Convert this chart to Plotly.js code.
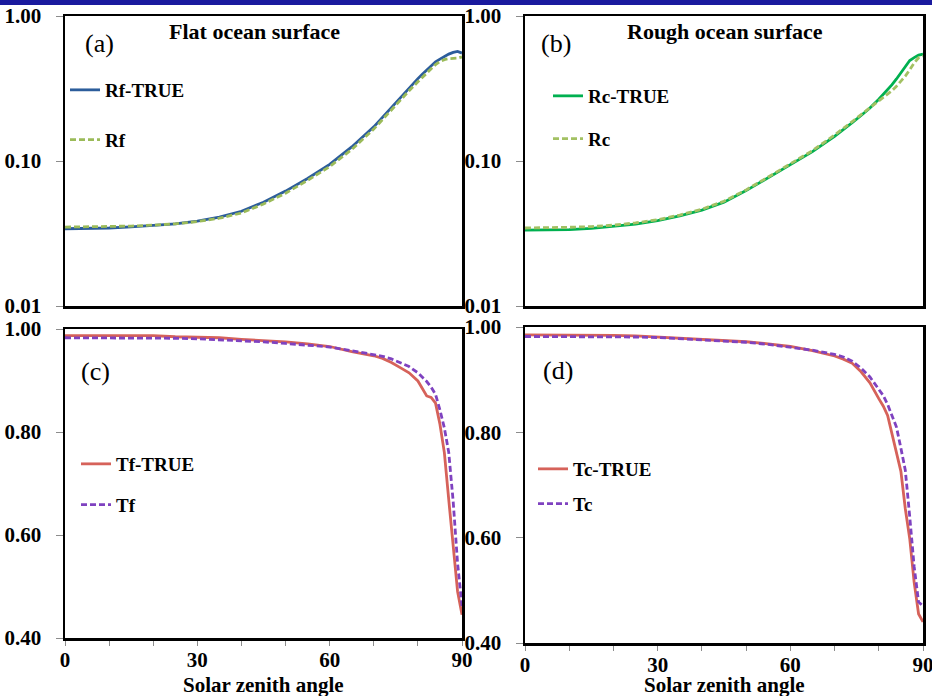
<!DOCTYPE html>
<html>
<head>
<meta charset="utf-8">
<script src="https://cdn.plot.ly/plotly-3.0.1.min.js"></script>
<style>
  html, body { margin: 0; padding: 0; background: #fff; }
  #chart { width: 932px; height: 696px; }
</style>
</head>
<body>
<div id="chart"></div>
<script>
// Solar zenith angle (degrees)
const angle = [0, 5, 10, 15, 20, 25, 30, 35, 40, 45, 50, 55, 60, 65, 70,
               72, 74, 76, 78, 80, 81, 82, 83, 84, 85, 86, 87, 88, 89, 90];

// (a) flat ocean surface reflectance
const rfTrue = [0.0341, 0.0342, 0.0345, 0.0351, 0.0358, 0.0369, 0.0385, 0.0410, 0.0450, 0.0520,
                0.0620, 0.0757, 0.0948, 0.125, 0.172, 0.201, 0.235, 0.273, 0.319, 0.370,
                0.397, 0.426, 0.456, 0.483, 0.504, 0.526, 0.546, 0.561, 0.570, 0.555];
const rf     = [0.0350, 0.0351, 0.0353, 0.0356, 0.0361, 0.0369, 0.0382, 0.0403, 0.0438, 0.0505,
                0.0600, 0.0735, 0.0915, 0.120, 0.166, 0.194, 0.227, 0.263, 0.305, 0.352,
                0.378, 0.405, 0.435, 0.462, 0.485, 0.500, 0.508, 0.510, 0.512, 0.522];

// (b) rough ocean surface reflectance
const rcTrue = [0.0334, 0.0334, 0.0336, 0.0343, 0.0353, 0.0367, 0.0388, 0.0418, 0.0458, 0.0520,
                0.0625, 0.0765, 0.0938, 0.116, 0.148, 0.164, 0.184, 0.206, 0.232, 0.267,
                0.288, 0.311, 0.336, 0.368, 0.405, 0.447, 0.493, 0.516, 0.538, 0.545];
const rc     = [0.0345, 0.0346, 0.0349, 0.0353, 0.0361, 0.0374, 0.0394, 0.0424, 0.0465, 0.0528,
                0.0632, 0.0775, 0.0955, 0.118, 0.151, 0.167, 0.187, 0.209, 0.233, 0.262,
                0.276, 0.292, 0.306, 0.328, 0.355, 0.385, 0.426, 0.475, 0.515, 0.530];

// (c) flat ocean surface transmittance
const tfTrue = [0.987, 0.987, 0.987, 0.987, 0.987, 0.985, 0.984, 0.983, 0.980, 0.978,
                0.975, 0.971, 0.966, 0.956, 0.948, 0.943, 0.935, 0.925, 0.915, 0.899,
                0.885, 0.870, 0.867, 0.856, 0.815, 0.760, 0.668, 0.585, 0.490, 0.445];
const tf     = [0.983, 0.983, 0.983, 0.983, 0.983, 0.982, 0.981, 0.979, 0.978, 0.975,
                0.972, 0.969, 0.965, 0.958, 0.951, 0.947, 0.942, 0.935, 0.927, 0.915,
                0.907, 0.898, 0.887, 0.873, 0.843, 0.808, 0.760, 0.665, 0.545, 0.462];

// (d) rough ocean surface transmittance
const tcTrue = [0.985, 0.985, 0.985, 0.985, 0.984, 0.983, 0.981, 0.979, 0.977, 0.975,
                0.972, 0.968, 0.963, 0.955, 0.945, 0.939, 0.931, 0.915, 0.894, 0.864,
                0.850, 0.832, 0.798, 0.758, 0.726, 0.655, 0.598, 0.515, 0.455, 0.440];
const tc     = [0.982, 0.982, 0.982, 0.982, 0.982, 0.981, 0.980, 0.978, 0.976, 0.974,
                0.971, 0.967, 0.962, 0.956, 0.948, 0.943, 0.935, 0.922, 0.905, 0.883,
                0.870, 0.853, 0.833, 0.810, 0.770, 0.728, 0.640, 0.545, 0.478, 0.470];

// Axis tick labels
const xTickVals = [0, 30, 60, 90];
const xTickText = ['0', '30', '60', '90'];
const logTickVals = [0.01, 0.1, 1];
const logTickText = ['0.01', '0.10', '1.00'];
const linTickVals = [0.4, 0.6, 0.8, 1.0];
const linTickText = ['0.40', '0.60', '0.80', '1.00'];

const W = 932, H = 696;
const SERIF = 'Liberation Serif, Times New Roman, serif';
const tickFont = () => ({ family: SERIF, size: 21, color: '#000', weight: 'bold' });
const legFont = () => ({ family: SERIF, size: 19, color: '#000', weight: 'bold' });

const C = {
  rfTrue: '#2c5d9b', rf: '#9bbb59',
  rcTrue: '#00b050', rc: '#a3c163',
  tTrue: '#d6625a', tEst: '#7f42c0'
};

function solid(color) { return { color: color, width: 2.8 }; }
function dashed(color) { return { color: color, width: 2.8, dash: '6px,3px' }; }

function series(x, y, name, ax, legend, group, line) {
  return {
    type: 'scatter', mode: 'lines', x: x, y: y, name: name,
    xaxis: 'x' + ax, yaxis: 'y' + ax, legend: legend, legendgroup: group,
    line: line, hoverinfo: 'x+y+name'
  };
}

const data = [
  series(angle, rfTrue, 'Rf-TRUE', '', 'legend', 'a1', solid(C.rfTrue)),
  series(angle, rf, 'Rf', '', 'legend', 'a2', dashed(C.rf)),
  series(angle, rcTrue, 'Rc-TRUE', '2', 'legend2', 'b1', solid(C.rcTrue)),
  series(angle, rc, 'Rc', '2', 'legend2', 'b2', dashed(C.rc)),
  series(angle, tfTrue, 'Tf-TRUE', '3', 'legend3', 'c1', solid(C.tTrue)),
  series(angle, tf, 'Tf', '3', 'legend3', 'c2', dashed(C.tEst)),
  series(angle, tcTrue, 'Tc-TRUE', '4', 'legend4', 'd1', solid(C.tTrue)),
  series(angle, tc, 'Tc', '4', 'legend4', 'd2', dashed(C.tEst))
];

// pixel boxes of the four plot areas: [left, right, top, bottom]
const boxes = {
  a: [65, 462, 16, 306],
  b: [525, 923, 16, 306],
  c: [65, 462, 329, 638],
  d: [525, 923, 327, 643]
};
const xd = b => [b[0] / W, b[1] / W];
const yd = b => [1 - b[3] / H, 1 - b[2] / H];

function xAxis(box, anchor, bottom) {
  const ax = {
    domain: xd(box), anchor: anchor, range: [0, 90],
    showline: true, mirror: true, linecolor: '#000', linewidth: 2.5,
    showgrid: false, zeroline: false, fixedrange: true
  };
  if (bottom) {
    Object.assign(ax, {
      tickmode: 'array', tickvals: xTickVals, ticktext: xTickText,
      ticks: 'outside', ticklen: 5, tickwidth: 1, tickcolor: '#8c8c8c',
      tickfont: tickFont(), ticklabelstandoff: -4, ticklabeloverflow: 'allow',
      minor: { dtick: 10, tick0: 0, ticks: 'outside', ticklen: 5, tickwidth: 1, tickcolor: '#8c8c8c', showgrid: false }
    });
  } else {
    Object.assign(ax, { ticks: '', showticklabels: false });
  }
  return ax;
}

function yAxis(box, anchor, log) {
  const ax = {
    domain: yd(box), anchor: anchor,
    showline: true, mirror: true, linecolor: '#000', linewidth: 2.5,
    showgrid: false, zeroline: false, fixedrange: true,
    ticks: 'outside', ticklen: 7, tickwidth: 1, tickcolor: '#8c8c8c',
    tickfont: tickFont(), ticklabelstandoff: 10, tickmode: 'array',
    ticklabeloverflow: 'allow'
  };
  if (log) {
    Object.assign(ax, { type: 'log', range: [-2, 0], tickvals: logTickVals, ticktext: logTickText });
  } else {
    Object.assign(ax, { range: [0.4, 1.0], tickvals: linTickVals, ticktext: linTickText });
  }
  return ax;
}

function legendAt(px, py, gap) {
  return {
    x: px / W, y: 1 - py / H, xanchor: 'left', yanchor: 'top',
    bgcolor: 'rgba(0,0,0,0)', borderwidth: 0, font: legFont(),
    tracegroupgap: gap, itemwidth: 30, traceorder: 'grouped'
  };
}

function label(text, px, py, size, bold) {
  return {
    text: text, xref: 'paper', yref: 'paper', x: px / W, y: 1 - py / H,
    xanchor: 'center', yanchor: 'middle', showarrow: false,
    font: { family: SERIF, size: size, color: '#000', weight: bold ? 'bold' : 'normal' }
  };
}

const layout = {
  width: W, height: H,
  margin: { l: 0, r: 0, t: 0, b: 0 },
  font: { family: SERIF, color: '#000' },
  paper_bgcolor: '#fff', plot_bgcolor: '#fff',
  showlegend: true,
  xaxis: xAxis(boxes.a, 'y', false),
  yaxis: yAxis(boxes.a, 'x', true),
  xaxis2: xAxis(boxes.b, 'y2', false),
  yaxis2: yAxis(boxes.b, 'x2', true),
  xaxis3: xAxis(boxes.c, 'y3', true),
  yaxis3: yAxis(boxes.c, 'x3', false),
  xaxis4: xAxis(boxes.d, 'y4', true),
  yaxis4: yAxis(boxes.d, 'x4', false),
  legend: legendAt(65, 71, 22),
  legend2: legendAt(548, 77, 15),
  legend3: legendAt(76, 445, 13),
  legend4: legendAt(533, 450, 7),
  annotations: [
    label('Flat ocean surface', 254, 32, 22, true),
    label('Rough ocean surface', 725, 32, 22, true),
    label('(a)', 99, 44, 26, false),
    label('(b)', 556, 44, 26, false),
    label('(c)', 95, 371, 26, false),
    label('(d)', 558, 370, 26, false),
    label('Solar zenith angle', 263.5, 685, 21, true),
    label('Solar zenith angle', 724, 685, 21, true)
  ],
  shapes: [
    { type: 'rect', xref: 'paper', yref: 'paper', x0: 0, x1: 1, y0: 1 - 5 / H, y1: 1,
      fillcolor: '#1a1a9e', line: { width: 0 }, layer: 'above' }
  ]
};

Plotly.newPlot('chart', data, layout, { displayModeBar: false, staticPlot: true });
</script>
</body>
</html>
